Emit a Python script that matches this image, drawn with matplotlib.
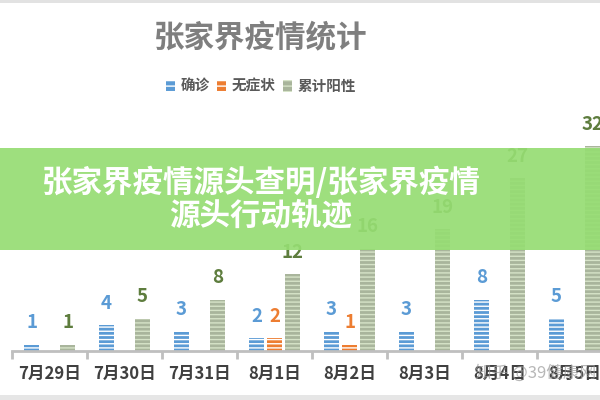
import numpy as np
import matplotlib.pyplot as plt
from matplotlib.patches import Rectangle, Patch

plt.rcParams['font.family'] = ['Noto Sans CJK SC', 'DejaVu Sans']
plt.rcParams['hatch.linewidth'] = 1.0

# data
dates = ["7月29日", "7月30日", "7月31日", "8月1日", "8月2日", "8月3日", "8月4日", "8月5日"]
confirmed = [1, 4, 3, 2, 3, 3, 8, 5]
asymptomatic = [0, 0, 0, 2, 1, 0, 0, 0]
cumulative = [1, 5, 8, 12, 16, 19, 27, 32]
series_names = ["确诊", "无症状", "累计阳性"]

blue = "#5B9BD5"
orange = "#ED7D31"
gray = "#A9B59C"
label_colors = ["#5B9BD5", "#ED7D31", "#5E7D3E"]

fig = plt.figure(figsize=(6, 4), dpi=100)
ax = fig.add_axes([12 / 600, 49 / 400, 1.0, 224 / 400])

x = np.arange(len(dates))
w = 0.19
off = 0.24
series = [confirmed, asymptomatic, cumulative]
faces = [blue, orange, gray]
hatch_cols = ["white", "white", "#D6E3C8"]

for i, (vals, fc, hc, lc) in enumerate(zip(series, faces, hatch_cols, label_colors)):
    xs = x + (i - 1) * off
    ax.bar(xs, vals, width=w, color=fc, edgecolor=hc, linewidth=0, hatch="----")
    for xi, v in zip(xs, vals):
        if v > 0:
            ax.annotate(str(v), (xi, v), xytext=(0, 9), textcoords="offset points",
                        ha="center", va="bottom", fontsize=13.5, color=lc,
                        fontweight="bold")

ax.set_xlim(-0.5, len(dates) - 0.5)
ax.set_ylim(0, 35)
ax.set_yticks(np.arange(0, 36, 5))
ax.tick_params(axis="y", length=0, pad=9, labelsize=10, labelcolor="#8C8C8C")
for s in ["top", "right", "left"]:
    ax.spines[s].set_visible(False)
ax.spines["bottom"].set_color("#BFBFBF")
ax.spines["bottom"].set_linewidth(2)

ax.set_xticks(x)
ax.set_xticklabels(dates, fontsize=12, fontweight="bold", color="#404040")
ax.tick_params(axis="x", which="major", length=0, pad=10)
ax.set_xticks(np.arange(-0.5, len(dates), 1), minor=True)
ax.tick_params(axis="x", which="minor", length=6, width=2, color="#BFBFBF")

# title and legend
fig.text(261 / 600, 1 - 38 / 400, "张家界疫情统计", ha="center", va="center",
         fontsize=22, fontweight="bold", color="#7F7F7F")
handles = [Patch(facecolor=fc, edgecolor=hc, linewidth=0, hatch="---")
           for fc, hc in zip(faces, hatch_cols)]
fig.legend(handles, series_names, loc="center", bbox_to_anchor=(261 / 600, 1 - 86 / 400),
           ncol=3, frameon=False, handlelength=0.6, handleheight=0.8,
           handletextpad=0.4, columnspacing=0.5,
           prop={"size": 10.5, "weight": "bold"}, labelcolor="#595959")

# green banner overlay
fig.patches.append(Rectangle((0, 1 - 250 / 400), 1, 102 / 400, transform=fig.transFigure,
                             facecolor="#96DD73", alpha=0.92, zorder=5))
fig.text(261 / 600, 1 - 183 / 400, "张家界疫情源头查明/张家界疫情", ha="center", va="center",
         fontsize=22, fontweight="heavy", color="white", zorder=6)
fig.text(261 / 600, 1 - 215 / 400, "源头行动轨迹", ha="center", va="center",
         fontsize=22, fontweight="heavy", color="white", zorder=6)

# page border bands and watermark
fig.patches.append(Rectangle((0, 1 - 3 / 400), 1, 3 / 400, transform=fig.transFigure,
                             facecolor="#E2E2E2", zorder=5))
fig.patches.append(Rectangle((0, 0), 1, 5 / 400, transform=fig.transFigure,
                             facecolor="#E6E6E6", zorder=5))
fig.text(536 / 600, 1 - 373 / 400, "知乎 @39健康网", ha="center", va="center",
         fontsize=12, color="#9A9A9A", alpha=0.7, zorder=6)

fig.savefig("out.png", dpi=100)
